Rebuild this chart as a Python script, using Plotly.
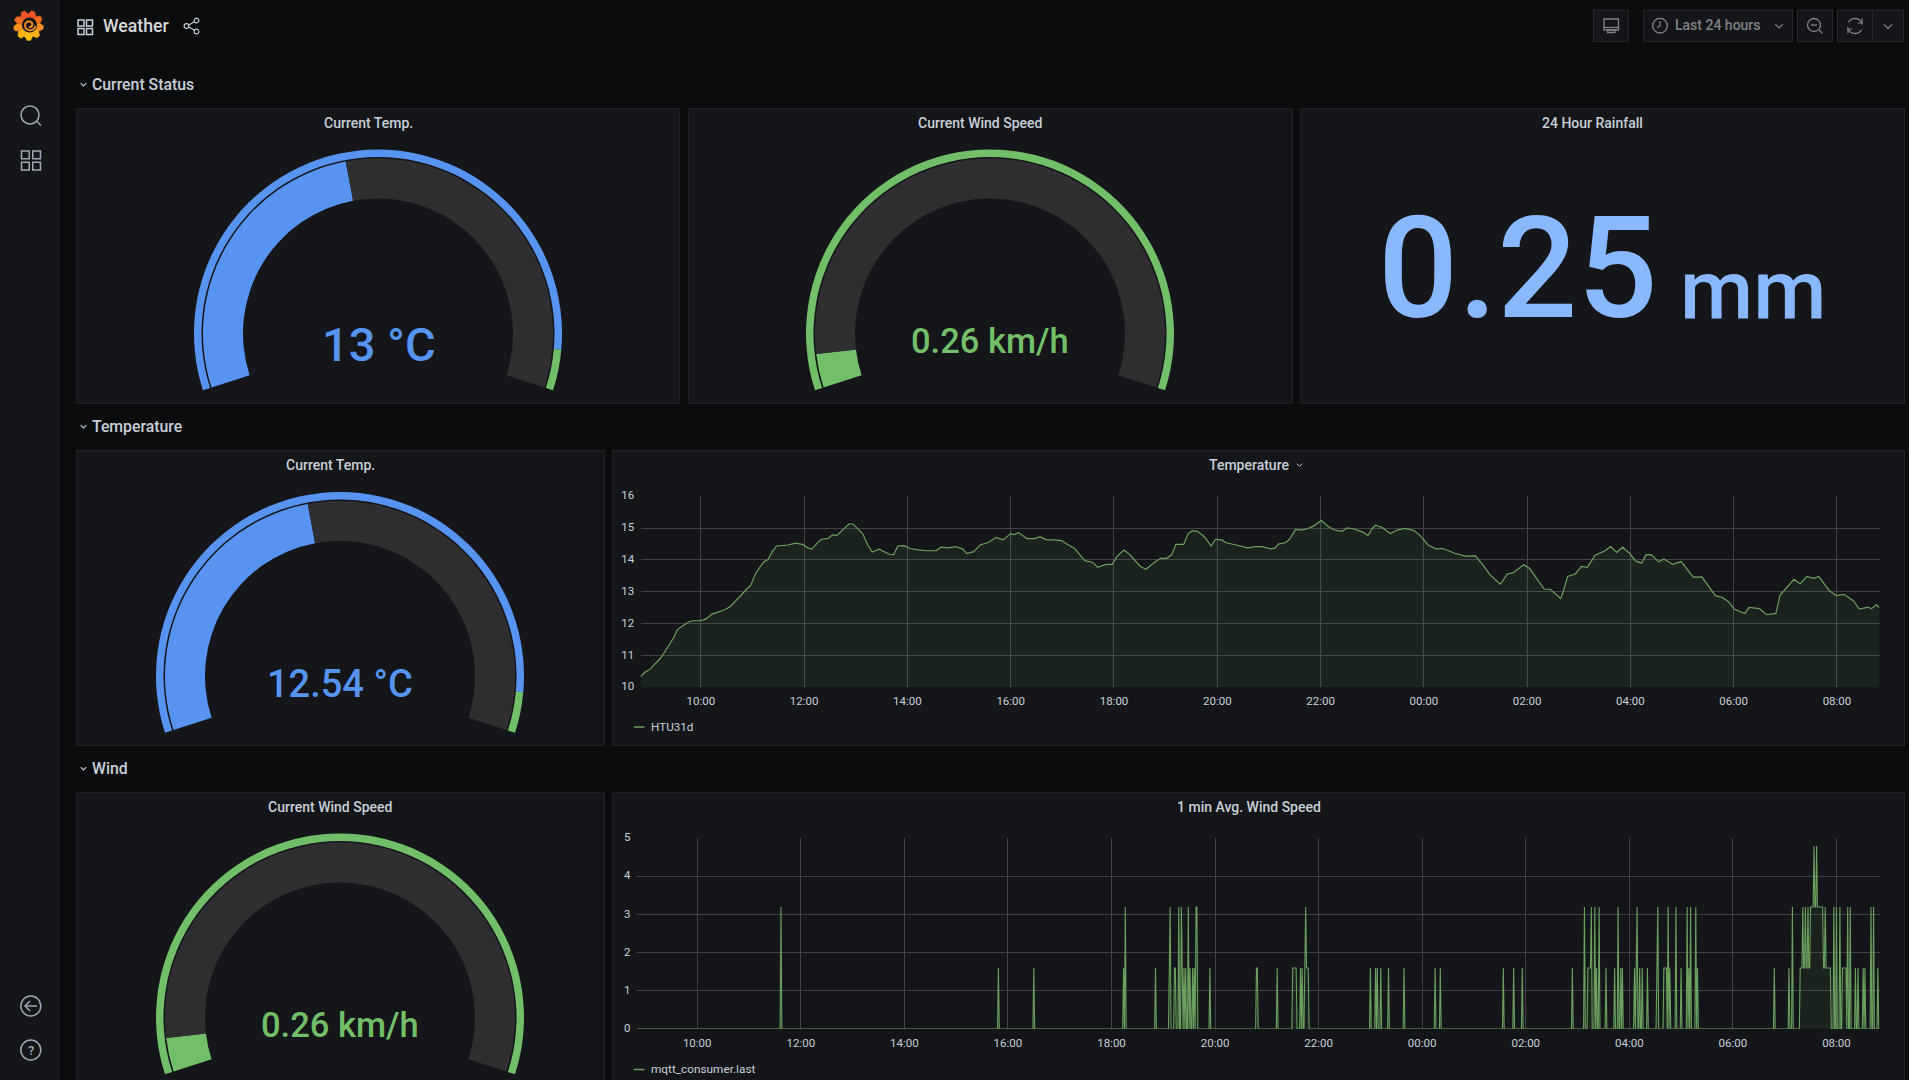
import math

import pandas as pd
import plotly.graph_objs as go

# readings
tick_times = ["10:00", "12:00", "14:00", "16:00", "18:00", "20:00", "22:00", "00:00", "02:00", "04:00", "06:00", "08:00"]
temp_ticks = [10, 11, 12, 13, 14, 15, 16]
wind_ticks = [0, 1, 2, 3, 4, 5]

temp_times = [
    "08:50", "08:55", "09:01", "09:07", "09:12", "09:17", "09:22", "09:28", "09:33", "09:39", "09:46", "09:51",
    "10:00", "10:06", "10:13", "10:20", "10:27", "10:34", "10:40", "10:47", "10:53", "10:58", "11:04", "11:09",
    "11:13", "11:18", "11:23", "11:28", "11:34", "11:41", "11:50", "11:58", "12:05", "12:09", "12:15", "12:20",
    "12:28", "12:33", "12:38", "12:45", "12:52", "12:57", "13:02", "13:08", "13:14", "13:19", "13:27", "13:34",
    "13:39", "13:44", "13:49", "13:56", "14:03", "14:13", "14:23", "14:33", "14:39", "14:47", "14:56", "15:04",
    "15:09", "15:17", "15:25", "15:34", "15:43", "15:51", "16:00", "16:04", "16:09", "16:19", "16:28", "16:34",
    "16:41", "16:50", "16:59", "17:07", "17:14", "17:26", "17:35", "17:41", "17:51", "17:58", "18:04", "18:12",
    "18:20", "18:30", "18:37", "18:47", "18:54", "19:01", "19:07", "19:12", "19:21", "19:26", "19:31", "19:37",
    "19:45", "19:53", "19:58", "20:05", "20:10", "20:22", "20:35", "20:45", "20:52", "21:02", "21:07", "21:11",
    "21:19", "21:24", "21:31", "21:38", "21:45", "21:52", "22:01", "22:09", "22:16", "22:25", "22:31", "22:38",
    "22:48", "22:55", "23:00", "23:04", "23:12", "23:21", "23:29", "23:38", "23:48", "23:55", "00:05", "00:14",
    "00:22", "00:36", "00:48", "01:00", "01:07", "01:17", "01:29", "01:37", "01:44", "01:51", "01:56", "02:03",
    "02:12", "02:20", "02:27", "02:39", "02:42", "02:47", "02:56", "03:03", "03:10", "03:19", "03:30", "03:37",
    "03:44", "03:51", "03:59", "04:06", "04:13", "04:18", "04:24", "04:33", "04:39", "04:49", "04:59", "05:06",
    "05:13", "05:23", "05:30", "05:39", "05:47", "05:54", "06:01", "06:13", "06:18", "06:30", "06:38", "06:49",
    "06:54", "07:02", "07:10", "07:17", "07:25", "07:33", "07:39", "07:51", "07:59", "08:08", "08:14", "08:19",
    "08:26", "08:36", "08:40", "08:46", "08:49",
]
temp_values = [
    10.34, 10.47, 10.57, 10.73, 10.88, 11.07, 11.30, 11.54, 11.82, 11.94, 12.06, 12.09,
    12.09, 12.15, 12.30, 12.36, 12.43, 12.53, 12.69, 12.90, 13.08, 13.21, 13.60, 13.79,
    13.94, 14.01, 14.26, 14.44, 14.46, 14.47, 14.53, 14.49, 14.37, 14.34, 14.52, 14.65,
    14.68, 14.79, 14.77, 14.96, 15.13, 15.13, 14.99, 14.82, 14.47, 14.25, 14.34, 14.24,
    14.18, 14.17, 14.44, 14.45, 14.36, 14.32, 14.29, 14.29, 14.40, 14.38, 14.42, 14.35,
    14.20, 14.26, 14.48, 14.55, 14.71, 14.63, 14.83, 14.80, 14.86, 14.67, 14.67, 14.73,
    14.64, 14.63, 14.61, 14.47, 14.37, 13.98, 13.93, 13.77, 13.86, 13.86, 14.13, 14.31,
    14.13, 13.81, 13.71, 13.92, 14.05, 14.05, 14.16, 14.49, 14.49, 14.82, 14.92, 14.90,
    14.73, 14.44, 14.65, 14.63, 14.54, 14.47, 14.38, 14.42, 14.42, 14.35, 14.37, 14.50,
    14.54, 14.65, 14.96, 14.94, 14.98, 15.07, 15.24, 15.05, 14.94, 14.90, 15.01, 14.98,
    14.89, 14.77, 14.99, 15.09, 15.01, 14.83, 14.94, 14.99, 14.93, 14.79, 14.47, 14.35,
    14.36, 14.21, 14.12, 14.13, 13.90, 13.53, 13.24, 13.56, 13.60, 13.75, 13.85, 13.73,
    13.40, 13.08, 13.08, 12.79, 13.01, 13.48, 13.56, 13.80, 13.77, 14.15, 14.28, 14.42,
    14.24, 14.40, 14.21, 13.97, 13.90, 14.16, 14.17, 13.94, 14.03, 13.86, 13.95, 13.71,
    13.46, 13.47, 13.21, 12.87, 12.82, 12.69, 12.45, 12.32, 12.51, 12.47, 12.28, 12.32,
    12.90, 13.16, 13.39, 13.25, 13.48, 13.42, 13.48, 13.04, 12.88, 12.92, 12.82, 12.72,
    12.46, 12.52, 12.47, 12.59, 12.50,
]

# the wind sensor only reports in steps, everything not listed here reads 0
wind_times_16 = [
    "15:49", "16:30", "18:14", "18:51", "19:07", "19:13", "19:14", "19:22", "19:24", "19:26", "19:31", "19:34",
    "19:36", "19:54", "20:48", "20:49", "21:12", "21:30", "21:31", "21:32", "21:33", "21:34", "21:39", "21:41",
    "21:44", "21:46", "21:47", "21:48", "23:00", "23:06", "23:08", "23:12", "23:21", "23:39", "00:15", "00:21",
    "01:34", "01:46", "01:56", "02:54", "03:12", "03:13", "03:14", "03:15", "03:22", "03:33", "03:43", "03:50",
    "03:52", "04:06", "04:08", "04:12", "04:15", "04:21", "04:32", "04:40", "04:41", "04:42", "04:43", "04:47",
    "05:00", "05:09", "05:19", "06:48", "07:05", "07:18", "07:19", "07:20", "07:22", "07:23", "07:25", "07:26",
    "07:28", "07:29", "07:45", "07:46", "07:48", "07:49", "07:50", "07:51", "07:52", "07:53", "08:07", "08:08",
    "08:09", "08:10", "08:11", "08:22", "08:25", "08:31", "08:33", "08:48",
]
wind_times_32 = [
    "11:37", "18:16", "19:08", "19:18", "19:21", "19:29", "19:38", "19:39", "21:45", "03:08", "03:16", "03:20",
    "03:25", "03:47", "04:09", "04:33", "04:45", "04:54", "05:07", "05:11", "05:17", "07:09", "07:21", "07:24",
    "07:27", "07:30", "07:31", "07:32", "07:33", "07:35", "07:36", "07:38", "07:39", "07:40", "07:41", "07:42",
    "07:43", "07:44", "07:47", "07:57", "08:00", "08:04", "08:13", "08:16", "08:40", "08:43",
]
wind_times_48 = ["07:34", "07:37"]

temp_now = 12.54
temp_min = -10
temp_max = 40
temp_threshold = 37
wind_now = 0.26
wind_min = 0
wind_max = 5
rain_total = "0.25"

# page size, the last row runs past the bottom of the window
W = 1909
H = 1210
FONT = "Roboto"
PAGE = "#0b0c0e"
PANEL = "#141619"
EDGE = "#202226"
TEXT = "#c7d0d9"
ICON = "#9fa7b3"
BLUE = "#5794f2"
GREEN = "#73bf69"
LINE = "#6ca05f"
TRACK = "#2f2f31"
GRID = "#404246"
GAUGE_SPAN = 216


def fx(x):
    return x / W


def fy(y):
    return 1 - y / H


def stamp(t):
    # range runs 08:50 to 08:50 next day
    day = "2021-03-16" if t < "08:50" else "2021-03-15"
    return day + " " + t


shapes = []
notes = []


def rect(x0, y0, x1, y1, fill="rgba(0,0,0,0)", edge="rgba(0,0,0,0)", width=1, layer="below"):
    shapes.append(dict(type="rect", xref="paper", yref="paper", x0=fx(x0), x1=fx(x1), y0=fy(y0), y1=fy(y1),
                       fillcolor=fill, line=dict(color=edge, width=width), layer=layer))


def seg(x0, y0, x1, y1, color=ICON, width=1.5):
    shapes.append(dict(type="line", xref="paper", yref="paper", x0=fx(x0), x1=fx(x1), y0=fy(y0), y1=fy(y1),
                       line=dict(color=color, width=width), layer="above"))


def circle(cx, cy, r, fill="rgba(0,0,0,0)", edge=ICON, width=1.5):
    shapes.append(dict(type="circle", xref="paper", yref="paper", x0=fx(cx - r), x1=fx(cx + r), y0=fy(cy - r), y1=fy(cy + r),
                       fillcolor=fill, line=dict(color=edge, width=width), layer="above"))


def poly(points, fill="rgba(0,0,0,0)", edge=ICON, width=1.5, close=True):
    d = "M " + " L ".join("%.5f,%.5f" % (fx(p[0]), fy(p[1])) for p in points)
    if close:
        d += " Z"
    shapes.append(dict(type="path", xref="paper", yref="paper", path=d, fillcolor=fill,
                       line=dict(color=edge, width=width), layer="above"))


def arc(cx, cy, r, a0, a1, color=ICON, width=1.5):
    # degrees, clockwise from 12 o'clock
    pts = []
    for i in range(25):
        a = math.radians(a0 + (a1 - a0) * i / 24)
        pts.append((cx + r * math.sin(a), cy - r * math.cos(a)))
    poly(pts, edge=color, width=width, close=False)


def text(x, y, s, size, color=TEXT, anchor="center", weight=400):
    notes.append(dict(x=fx(x), y=fy(y), xref="paper", yref="paper", text=s, showarrow=False, xanchor=anchor, yanchor="middle",
                      font=dict(family=FONT, size=size, color=color, weight=weight)))


def chevron(x, y, half, color=ICON, width=1.2):
    poly([(x - half, y - half / 2), (x, y + half / 2), (x + half, y - half / 2)], edge=color, width=width, close=False)


def grid_icon(x0, y0, size, gap, color=ICON):
    cell = (size - gap) / 2
    for i in range(2):
        for j in range(2):
            x = x0 + i * (cell + gap)
            y = y0 + j * (cell + gap)
            rect(x, y, x + cell, y + cell, edge=color, width=1.5, layer="above")


def logo(cx, cy):
    teeth = 9
    top = (240, 80, 40)
    bottom = (252, 190, 20)
    for i in range(teeth):
        step = 360 / teeth
        a = i * step
        mid = math.radians(a + step / 2)
        mix = (1 - math.cos(mid)) / 2
        col = "rgb(%d,%d,%d)" % tuple(top[k] + (bottom[k] - top[k]) * mix for k in range(3))
        pts = [(cx, cy)]
        for off, r in [(0, 11.5), (step * 0.28, 15), (step * 0.62, 15), (step, 11.5)]:
            t = math.radians(a + off)
            pts.append((cx + r * math.sin(t), cy - r * math.cos(t)))
        poly(pts, fill=col, edge=col, width=0.5)
    circle(cx + 1, cy - 0.5, 7.6, fill=PANEL, edge=PANEL, width=0)
    spiral = []
    for i in range(36):
        t = math.radians(100 + i * 13)
        r = 6 - i * 0.12
        spiral.append((cx + 1 + r * math.sin(t), cy - 0.5 - r * math.cos(t)))
    poly(spiral, edge="#f58a20", width=2, close=False)


def gauge_traces(cx, cy, value, low, high, bands, colors, fill_color):
    # bands are the ring segment widths, the last third or so of the pie stays empty
    total = high - low
    gap = total * (360 - GAUGE_SPAN) / GAUGE_SPAN
    clear = "rgba(0,0,0,0)"
    out = []
    for r_out, r_in, vals, cols in [
        (184, 176.5, bands + [gap], colors + [clear]),
        (175, 135, [value - low, high - value, gap], [fill_color, TRACK, clear]),
    ]:
        out.append(go.Pie(
            values=vals, sort=False, direction="clockwise", rotation=-GAUGE_SPAN / 2, hole=r_in / r_out,
            marker=dict(colors=cols, line=dict(width=0)), textinfo="none", hoverinfo="skip", showlegend=False,
            domain=dict(x=[fx(cx - r_out), fx(cx + r_out)], y=[fy(cy + r_out), fy(cy - r_out)]),
        ))
    return out


fig = go.Figure()

# chrome
rect(0, 0, 60, H, fill=PANEL)
for x0, y0, x1, y1 in [(76.5, 108.5, 679.5, 403.5), (688.5, 108.5, 1292.5, 403.5), (1300.5, 108.5, 1904.5, 403.5),
                       (76.5, 450.5, 604.5, 745.5), (612.5, 450.5, 1904.5, 745.5),
                       (76.5, 792.5, 604.5, H + 5), (612.5, 792.5, 1904.5, H + 5)]:
    rect(x0, y0, x1, y1, fill=PANEL, edge=EDGE)

logo(28.5, 25.5)
circle(30, 115, 9)
seg(37, 121.5, 41, 125.5)
grid_icon(21.5, 151, 19, 3.5)
circle(30.8, 1006, 10)
seg(37, 1006, 25.5, 1006)
poly([(30, 1001), (25, 1006), (30, 1011)], close=False)
circle(30.8, 1050, 10)
text(30.8, 1050, "?", 13, ICON, weight=500)

grid_icon(78, 20, 14.5, 2.5, TEXT)
text(100.5, 26, "Weather", 17.7, "#d8d9da", "left", 500)
seg(187, 26, 196.5, 20.5, TEXT, 1.1)
seg(187, 26, 196.5, 31.5, TEXT, 1.1)
circle(186.5, 26, 2.4, fill=PAGE, edge=TEXT, width=1.1)
circle(196.5, 20.5, 2.4, fill=PAGE, edge=TEXT, width=1.1)
circle(196.5, 31.5, 2.4, fill=PAGE, edge=TEXT, width=1.1)

for x0, x1 in [(1593.5, 1628.5), (1643.5, 1792.5), (1797.5, 1832.5), (1837.5, 1872.5), (1872.5, 1903.5)]:
    rect(x0, 10, x1, 41.5, fill=PANEL, edge="#26282b", layer="above")
ICON_DIM = "#7f8388"
rect(1604, 19, 1618.5, 30, edge=ICON_DIM, width=1.3, layer="above")
seg(1604, 27.5, 1618.5, 27.5, ICON_DIM, 1.3)
rect(1607.5, 30, 1615, 32.5, edge=ICON_DIM, width=1.3, layer="above")
circle(1660, 25.7, 7.3, edge=ICON_DIM, width=1.3)
poly([(1660, 21), (1660, 26), (1657, 27.5)], edge=ICON_DIM, width=1.2, close=False)
text(1672.5, 25, "Last 24 hours", 14, ICON_DIM, "left", 500)
chevron(1779, 26, 3.8, ICON_DIM)
circle(1814, 25, 6.5, edge=ICON_DIM, width=1.3)
seg(1811, 25, 1817, 25, ICON_DIM, 1.3)
seg(1819, 30, 1822.5, 33.5, ICON_DIM, 1.3)
arc(1855, 26, 7.5, -60, 80, ICON_DIM, 1.3)
arc(1855, 26, 7.5, 120, 260, ICON_DIM, 1.3)
poly([(1862, 18.5), (1862, 23), (1857.5, 23)], edge=ICON_DIM, width=1.2, close=False)
poly([(1848, 33.5), (1848, 29), (1852.5, 29)], edge=ICON_DIM, width=1.2, close=False)
chevron(1888, 26.5, 4, ICON_DIM)

# row and panel titles
for y, label in [(84.5, "Current Status"), (426.5, "Temperature"), (768.5, "Wind")]:
    chevron(83.5, y, 2.8, TEXT, 1.1)
    text(90, y, label, 15.8, TEXT, "left", 500)
for x, y, label in [(368.5, 123, "Current Temp."), (980, 123, "Current Wind Speed"), (1592.5, 123, "24 Hour Rainfall"),
                    (330, 465, "Current Temp."), (1249, 465, "Temperature"),
                    (330, 807, "Current Wind Speed"), (1249, 807, "1 min Avg. Wind Speed")]:
    text(x, y, label, 14, TEXT, weight=500)
chevron(1299.5, 465, 2.6, TEXT, 1)

# gauges
temp_bands = [temp_threshold - temp_min, temp_max - temp_threshold]
for cx, cy in [(378, 333.5), (340, 676)]:
    fig.add_traces(gauge_traces(cx, cy, temp_now, temp_min, temp_max, temp_bands, [BLUE, GREEN], BLUE))
for cx, cy in [(990, 333.5), (340, 1017.5)]:
    fig.add_traces(gauge_traces(cx, cy, wind_now, wind_min, wind_max, [wind_max - wind_min], [GREEN], GREEN))

text(378.5, 344, "%.0f °C" % temp_now, 47, BLUE, weight=500)
text(340, 684, "%.2f °C" % temp_now, 38, BLUE, weight=500)
text(990, 341, "%.2f km/h" % wind_now, 34.5, GREEN, weight=500)
text(340, 1025, "%.2f km/h" % wind_now, 34.5, GREEN, weight=500)
text(1376, 269, rain_total, 141, "#8ab8ff", "left", 500)
text(1677.5, 290, "mm", 84, "#8ab8ff", "left", 500)

# time series
axis_start = stamp("08:50")
axis_end = "2021-03-16 08:50"

fig.add_trace(go.Scatter(
    x=[stamp(t) for t in temp_times], y=temp_values, name="HTU31d", mode="lines",
    line=dict(color=LINE, width=1.2), fill="tozeroy", fillcolor="rgba(115,191,105,0.08)",
    showlegend=False, hoverinfo="skip", xaxis="x", yaxis="y",
))

wind_index = pd.date_range(axis_start, axis_end, freq="min")
wind_series = pd.Series(0.0, index=wind_index)
for level, times in [(1.6, wind_times_16), (3.2, wind_times_32), (4.8, wind_times_48)]:
    wind_series[pd.to_datetime([stamp(t) for t in times])] = level

fig.add_trace(go.Scatter(
    x=wind_series.index, y=wind_series.values, name="mqtt_consumer.last", mode="lines",
    line=dict(color=LINE, width=1.1), fill="tozeroy", fillcolor="rgba(115,191,105,0.08)",
    showlegend=False, hoverinfo="skip", cliponaxis=False, xaxis="x2", yaxis="y2",
))

seg(634, 727, 644.5, 727, LINE, 1.5)
text(649, 726.5, "HTU31d", 11.7, anchor="left")
seg(634, 1069.5, 644.5, 1069.5, LINE, 1.5)
text(649, 1069, "mqtt_consumer.last", 11.8, anchor="left")

tick_font = dict(family=FONT, size=11.5, color=TEXT)
x_common = dict(
    type="date", range=[axis_start, axis_end], tickmode="array", tickvals=[stamp(t) for t in tick_times],
    ticktext=tick_times, tickfont=tick_font, showgrid=True, gridcolor=GRID, gridwidth=1, zeroline=False,
    ticks="outside", ticklen=3, tickcolor="rgba(0,0,0,0)",
)
y_common = dict(
    tickfont=tick_font, showgrid=True, gridcolor=GRID, gridwidth=1, zeroline=False,
    ticks="outside", ticklen=3, tickcolor="rgba(0,0,0,0)", tickmode="array", ticklabelshift=-1,
)

fig.update_layout(
    width=W,
    height=H,
    margin=dict(l=0, r=0, t=0, b=0, autoexpand=False),
    autosize=False,
    paper_bgcolor=PAGE,
    plot_bgcolor="rgba(0,0,0,0)",
    font=dict(family=FONT, color=TEXT),
    showlegend=False,
    shapes=shapes,
    annotations=notes,
    xaxis=dict(domain=[fx(640.6), fx(1880)], anchor="y", **x_common),
    yaxis=dict(domain=[fy(687.3), fy(496.3)], anchor="x", range=[10, 16], tickvals=temp_ticks, **y_common),
    xaxis2=dict(domain=[fx(636.8), fx(1879.6)], anchor="y2", **x_common),
    yaxis2=dict(domain=[fy(1029), fy(838.3)], anchor="x2", range=[0, 5], tickvals=wind_ticks, **y_common),
)

fig.write_html(
    "out.html",
    config=dict(displayModeBar=False),
    post_script="document.documentElement.style.overflow='hidden';document.body.style.margin='0';document.body.style.overflow='hidden';",
)
